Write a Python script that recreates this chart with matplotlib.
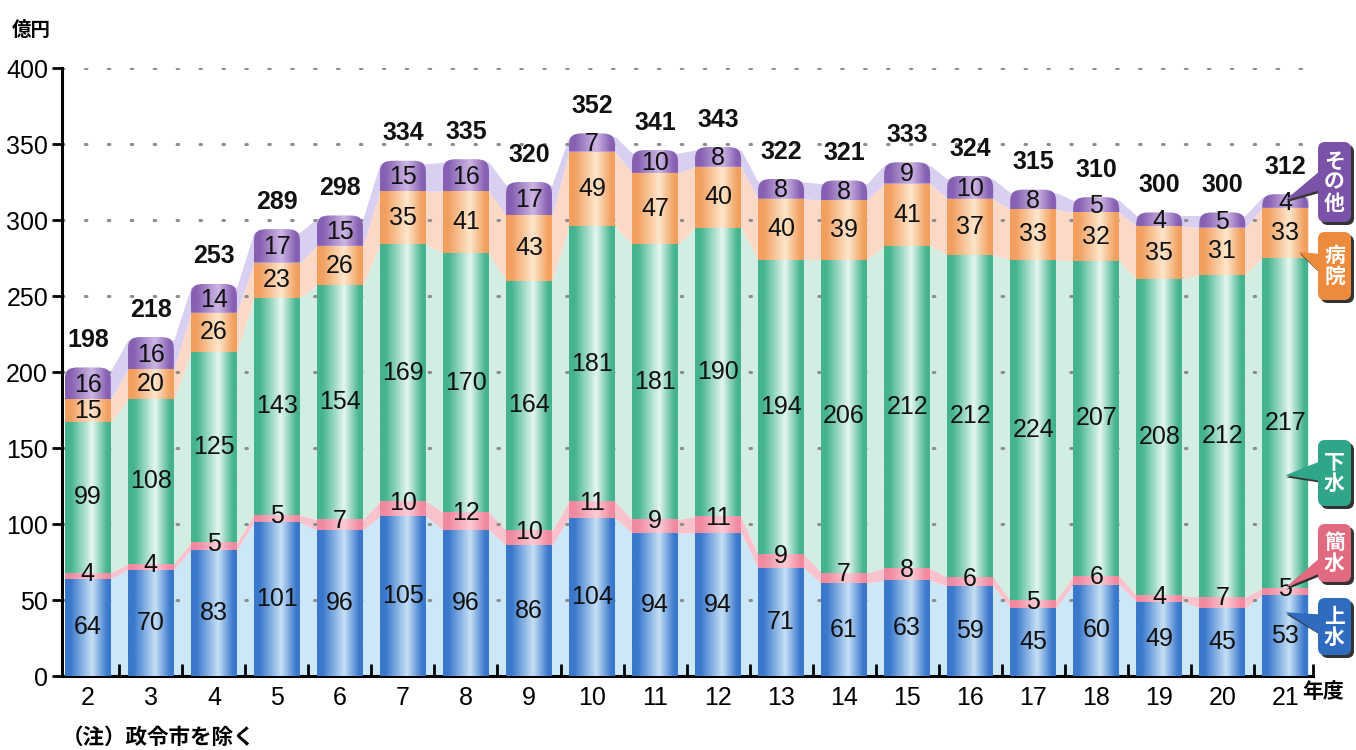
import numpy as np
import matplotlib
matplotlib.use("Agg")
import matplotlib.pyplot as plt
from matplotlib.path import Path
from matplotlib.patches import PathPatch, FancyBboxPatch, Polygon
from matplotlib.colors import LinearSegmentedColormap

years = ["2", "3", "4", "5", "6", "7", "8", "9", "10", "11", "12", "13", "14",
         "15", "16", "17", "18", "19", "20", "21"]
josui = [64, 70, 83, 101, 96, 105, 96, 86, 104, 94, 94, 71, 61, 63, 59, 45, 60, 49, 45, 53]
kansui = [4, 4, 5, 5, 7, 10, 12, 10, 11, 9, 11, 9, 7, 8, 6, 5, 6, 4, 7, 5]
gesui = [99, 108, 125, 143, 154, 169, 170, 164, 181, 181, 190, 194, 206, 212, 212, 224, 207, 208, 212, 217]
byoin = [15, 20, 26, 23, 26, 35, 41, 43, 49, 47, 40, 40, 39, 41, 37, 33, 32, 35, 31, 33]
sonota = [16, 16, 14, 17, 15, 15, 16, 17, 7, 10, 8, 8, 8, 9, 10, 8, 5, 4, 5, 4]
totals = [198, 218, 253, 289, 298, 334, 335, 320, 352, 341, 343, 322, 321, 333, 324, 315, 310, 300, 300, 312]
series_names = ["上水", "簡水", "下水", "病院", "その他"]
yticks = [0, 50, 100, 150, 200, 250, 300, 350, 400]

series = [josui, kansui, gesui, byoin, sonota]
edge_cols = ["#3a78cc", "#f08aa0", "#45b48e", "#f2a060", "#8660b2"]
mid_cols = ["#c6e0f6", "#fcccd6", "#e4f7f0", "#fee6cc", "#cdb6e4"]
band_cols = ["#cbe7f8", "#f9c3ce", "#d2ede1", "#fbd9c6", "#d9cff0"]
box_cols = ["#2f6cc0", "#e26a80", "#2fa58a", "#ee8a3c", "#7a52a8"]

NUM = ['Liberation Sans', 'DejaVu Sans']
JP = ['Noto Sans CJK JP', 'DejaVu Sans']
plt.rcParams['font.family'] = NUM

W, H = 1356, 750
fig = plt.figure(figsize=(W / 100, H / 100), dpi=100)
ax = fig.add_axes([62 / W, 1 - 676 / H, (1313 - 62) / W, (676 - 68) / H])

n = len(years)
x = np.arange(n)
bw = 0.73
cap = 5.0

data = np.array(series, dtype=float)
cum = np.vstack([np.zeros(n), np.cumsum(data, axis=0)])
top_draw = cum.copy()
top_draw[5] = cum[5] + cap

# connecting bands
xs = np.ravel(np.column_stack([x - bw / 2, x + bw / 2]))
for k in range(5):
    lo = np.repeat(top_draw[k], 2)
    hi = np.repeat(top_draw[k + 1] - (2 if k == 4 else 0), 2)
    ax.fill_between(xs, lo, hi, color=band_cols[k], lw=0, zorder=1)

# grid
for v in yticks[1:]:
    ax.axhline(v, color="#8c8c8c", lw=2.2, ls=(0, (0.5, 7)), dash_capstyle="round", zorder=2)

# gradient bars
grad = np.linspace(0, 1, 256)[None, :]
rx, ry = 0.22, 8.0
for k in range(5):
    cmap = LinearSegmentedColormap.from_list(
        "c%d" % k, [(0, edge_cols[k]), (0.12, edge_cols[k]), (0.58, mid_cols[k]), (0.9, edge_cols[k]), (1, edge_cols[k])])
    for i in range(n):
        x0, x1 = x[i] - bw / 2, x[i] + bw / 2
        b, t = top_draw[k][i], top_draw[k + 1][i]
        if k == 4:
            verts = [(x0, b), (x0, t - ry), (x0, t - ry * 0.2), (x0 + rx * 0.3, t), (x0 + rx, t),
                     (x1 - rx, t), (x1 - rx * 0.3, t), (x1, t - ry * 0.2), (x1, t - ry), (x1, b), (x0, b)]
            codes = [Path.MOVETO, Path.LINETO, Path.CURVE4, Path.CURVE4, Path.CURVE4,
                     Path.LINETO, Path.CURVE4, Path.CURVE4, Path.CURVE4, Path.LINETO, Path.CLOSEPOLY]
        else:
            verts = [(x0, b), (x0, t), (x1, t), (x1, b), (x0, b)]
            codes = [Path.MOVETO, Path.LINETO, Path.LINETO, Path.LINETO, Path.CLOSEPOLY]
        patch = PathPatch(Path(verts, codes), facecolor="none", edgecolor="none", zorder=3)
        ax.add_patch(patch)
        im = ax.imshow(grad, cmap=cmap, aspect="auto", extent=[x0, x1, b, t],
                       interpolation="bicubic", zorder=3)
        im.set_clip_path(patch)

ax.set_xlim(-0.41, n - 0.56)
ax.set_ylim(0, 400)

# value labels
for k in range(5):
    for i in range(n):
        v = series[k][i]
        yc = (top_draw[k][i] + top_draw[k + 1][i]) / 2
        if k == 1:
            yc = cum[k + 1][i] - 1
        if k == 4:
            yc = (cum[4][i] + cum[5][i] + cap) / 2 - 1
        ax.text(x[i], yc, str(v), ha="center", va="center", fontsize=18, color="#111111", zorder=5)
for i in range(n):
    ax.text(x[i], totals[i] + 23, str(totals[i]), ha="center", va="center", fontsize=18,
            fontweight="bold", color="#111111", zorder=5, clip_on=False)

# axes styling
for s in ["top", "right"]:
    ax.spines[s].set_visible(False)
ax.spines["left"].set_linewidth(2.2)
ax.spines["bottom"].set_linewidth(2.2)
ax.set_yticks(yticks)
ax.set_yticklabels([str(v) for v in yticks], fontsize=18)
ax.tick_params(axis="y", direction="out", length=7, width=2, pad=3)
ax.set_xticks(x)
ax.set_xticklabels(years, fontsize=18)
ax.tick_params(axis="x", which="major", length=0, pad=7)
ax.set_xticks(list(x[:-1] + 0.5) + [x[-1] + 0.44], minor=True)
ax.tick_params(axis="x", which="minor", direction="in", length=9, width=2)

fig.text(12 / W, 1 - 30 / H, "億円", fontsize=14, fontweight="bold", family=JP, va="center")
fig.text(1302 / W, 1 - 692 / H, "年度", fontsize=15, fontweight="bold", family=JP, va="center")
fig.text(62 / W, 1 - 737 / H, "（注）政令市を除く", fontsize=15.5, fontweight="bold", family=JP, va="center")

# legend boxes with pointers (overlay in pixel coordinates)
ov = fig.add_axes([0, 0, 1, 1], facecolor="none")
ov.set_xlim(0, W)
ov.set_ylim(H, 0)
ov.axis("off")

def to_px(xd, yd):
    px, py = ax.transData.transform((xd, yd))
    return px, H - py

boxes = [  # (series index, top, bottom, target value)
    (4, 142, 222, 313),
    (3, 232, 300, 279),
    (2, 440, 506, 132),
    (1, 524, 582, 58),
    (0, 598, 655, 42),
]
tip_dx = [0.0, 0.0, 0.0, 0.22, 0.0]
for k, top, bot, tv in boxes:
    bx0, bx1 = 1318, 1351
    tx, ty = to_px(x[-1] + tip_dx[k], tv)
    cy = (top + bot) / 2
    if k == 1:
        base = [(bx0 + 3, cy + 4), (bx0 + 3, cy + 20)]
    else:
        base = [(bx0 + 3, cy - 12), (bx0 + 3, cy + 8)]
    shadow = Polygon([(tx + 1, ty + 2)] + [(p[0] + 2, p[1] + 2) for p in base], closed=True,
                     facecolor="#333333", edgecolor="none", zorder=6)
    ov.add_patch(shadow)
    ov.add_patch(FancyBboxPatch((bx0 + 3, top + 3), bx1 - bx0, bot - top,
                                boxstyle="round,pad=0,rounding_size=7",
                                facecolor="#333333", edgecolor="none", zorder=6))
    ov.add_patch(Polygon([(tx, ty)] + base, closed=True, facecolor=box_cols[k], edgecolor="none", zorder=7))
    ov.add_patch(FancyBboxPatch((bx0, top), bx1 - bx0, bot - top,
                                boxstyle="round,pad=0,rounding_size=7",
                                facecolor=box_cols[k], edgecolor="none", zorder=7))
    ov.text((bx0 + bx1) / 2, cy, "\n".join(series_names[k]), ha="center", va="center",
            color="white", fontsize=15, fontweight="bold", family=JP, linespacing=1.0, zorder=8)

fig.savefig("out.png", dpi=100)
